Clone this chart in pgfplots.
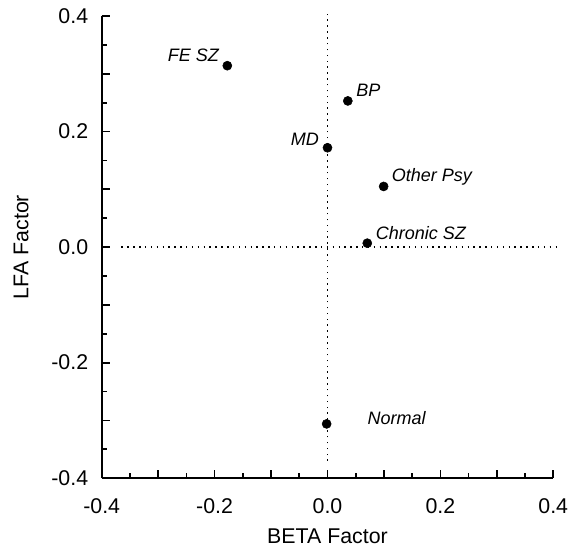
\documentclass[border=0pt]{standalone}
\usepackage{pgfplots}
\pgfplotsset{compat=1.18}
\usepackage{fontspec}
\setmainfont{Liberation Sans}
\begin{document}
\begin{tikzpicture}
\begin{axis}[
  at={(0,0)}, anchor=south west,
  scale only axis, width=338.7pt, height=346.7pt,
  xmin=-0.4, xmax=0.4, ymin=-0.4, ymax=0.4,
  axis x line*=bottom, axis y line*=left,
  axis line style={line width=1.4pt, -},
  xtick={-0.4,-0.3,-0.2,-0.1,0,0.1,0.2,0.3,0.4},
  xticklabels={-0.4,,-0.2,,0.0,,0.2,,0.4},
  ytick={-0.4,-0.3,-0.2,-0.1,0,0.1,0.2,0.3,0.4},
  yticklabels={-0.4,,-0.2,,0.0,,0.2,,0.4},
  minor x tick num=1, minor y tick num=1,
  tick align=inside,
  major tick length=6pt, minor tick length=3.7pt,
  every tick/.style={black, line width=1.3pt},
  font=\fontsize{16}{19}\selectfont,
  xticklabel style={anchor=north, inner sep=0pt, yshift=-15pt},
  yticklabel style={anchor=east, inner sep=0pt, xshift=-10pt},
  xlabel={BETA Factor}, ylabel={LFA Factor},
  x label style={at={(axis description cs:0.5,-0.1263)}, anchor=center},
  y label style={at={(axis description cs:-0.1786,0.5)}, anchor=center},
  clip=false,
]
\addplot[black, line width=1.1pt, dash pattern=on 1.1pt off 3.3pt] coordinates {(0,-0.37) (0,0.41)};
\addplot[black, line width=1.1pt, dash pattern=on 1.1pt off 3.3pt] coordinates {(-0.365,0) (0.407,0)};
\addplot[only marks, mark=*, mark size=3.4pt, black] coordinates {
  (-0.1775,0.314)
  (0.036,0.253)
  (0.0,0.172)
  (0.0995,0.105)
  (0.0705,0.0068)
  (-0.0015,-0.306)
};
\begin{scope}[every node/.style={inner sep=0pt, font=\fontsize{13.5}{16}\selectfont\itshape}]
\node[anchor=base east, xshift=-6.2pt, yshift=2.8pt] at (axis cs:-0.1775,0.314) {FE SZ};
\node[anchor=base west, xshift=6.2pt, yshift=3.2pt] at (axis cs:0.036,0.253) {BP};
\node[anchor=base east, xshift=-6.3pt, yshift=1.3pt] at (axis cs:0.0,0.172) {MD};
\node[anchor=base west, xshift=6pt, yshift=3.75pt] at (axis cs:0.0995,0.105) {Other Psy};
\node[anchor=base west, xshift=6.3pt, yshift=3pt] at (axis cs:0.0705,0.0068) {Chronic SZ};
\node[anchor=base west, xshift=30.5pt, yshift=-0.5pt] at (axis cs:-0.0015,-0.306) {Normal};
\end{scope}
\end{axis}
\pgfresetboundingbox
\path (-76.3pt,-52.3pt) rectangle (358pt,358.7pt);
\end{tikzpicture}
\end{document}
